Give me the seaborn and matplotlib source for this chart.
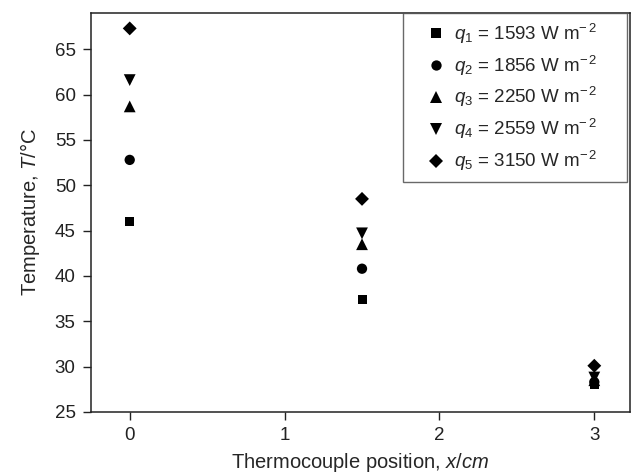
import matplotlib
matplotlib.use("Agg")
import matplotlib.pyplot as plt
import seaborn as sns
import pandas as pd

# thermocouple positions (cm) and temperatures for each heat flux
positions = [0, 1.5, 3]
flux_labels = [
    r"$q_1$ = 1593 W m$^{-\,2}$",
    r"$q_2$ = 1856 W m$^{-\,2}$",
    r"$q_3$ = 2250 W m$^{-\,2}$",
    r"$q_4$ = 2559 W m$^{-\,2}$",
    r"$q_5$ = 3150 W m$^{-\,2}$",
]
temp_q1 = [46.0, 37.4, 28.0]
temp_q2 = [52.8, 40.8, 28.3]
temp_q3 = [58.7, 43.5, 28.5]
temp_q4 = [61.6, 44.7, 28.8]
temp_q5 = [67.3, 48.5, 30.1]

rows = []
for lab, temps in zip(flux_labels, [temp_q1, temp_q2, temp_q3, temp_q4, temp_q5]):
    for x, t in zip(positions, temps):
        rows.append({"x": x, "T": t, "q": lab})
df = pd.DataFrame(rows)

sns.set_style("ticks")
plt.rcParams["font.family"] = ["Liberation Sans", "DejaVu Sans"]
plt.rcParams["mathtext.fontset"] = "custom"
plt.rcParams["mathtext.rm"] = "Liberation Sans"
plt.rcParams["mathtext.it"] = "Liberation Sans:italic"

fig = plt.figure(figsize=(6.35, 4.76), dpi=100)
ax = fig.add_axes([0.1433, 0.1345, 0.8487, 0.8382])

markers = ["s", "o", "^", "v", "D"]
marker_sizes = dict(zip(flux_labels, [42, 55, 72, 72, 50]))
sns.scatterplot(data=df, x="x", y="T", hue="q", style="q", size="q",
                markers=markers, palette=["black"] * 5, sizes=marker_sizes,
                edgecolor="black", linewidth=0, ax=ax)

ax.set_xlim(-0.25, 3.23)
ax.set_ylim(25, 69)
ax.set_xticks([0, 1, 2, 3])
ax.set_yticks(range(25, 66, 5))
ax.set_xlabel(r"Thermocouple position, $x/cm$", fontsize=14.5, labelpad=5)
ax.set_ylabel(r"Temperature, $T$/°C", fontsize=14.5, labelpad=9)
ax.tick_params(direction="out", length=6, width=1, labelsize=13.5, pad=5, colors="#222222")
for sp in ax.spines.values():
    sp.set_visible(True)
    sp.set_linewidth(1.1)
    sp.set_color("#222222")

leg = ax.legend(title=None, loc="upper left", bbox_to_anchor=(0.579, 0.0, 0.4156, 1.0),
                mode="expand", fontsize=13.5, frameon=True,
                fancybox=False, edgecolor="#444444", borderpad=0.45,
                labelspacing=0.42, handletextpad=-0.35, borderaxespad=0.0,
                handlelength=2.6, markerscale=1.0)
leg.get_frame().set_linewidth(1.0)

fig.savefig("out.png", dpi=100)
